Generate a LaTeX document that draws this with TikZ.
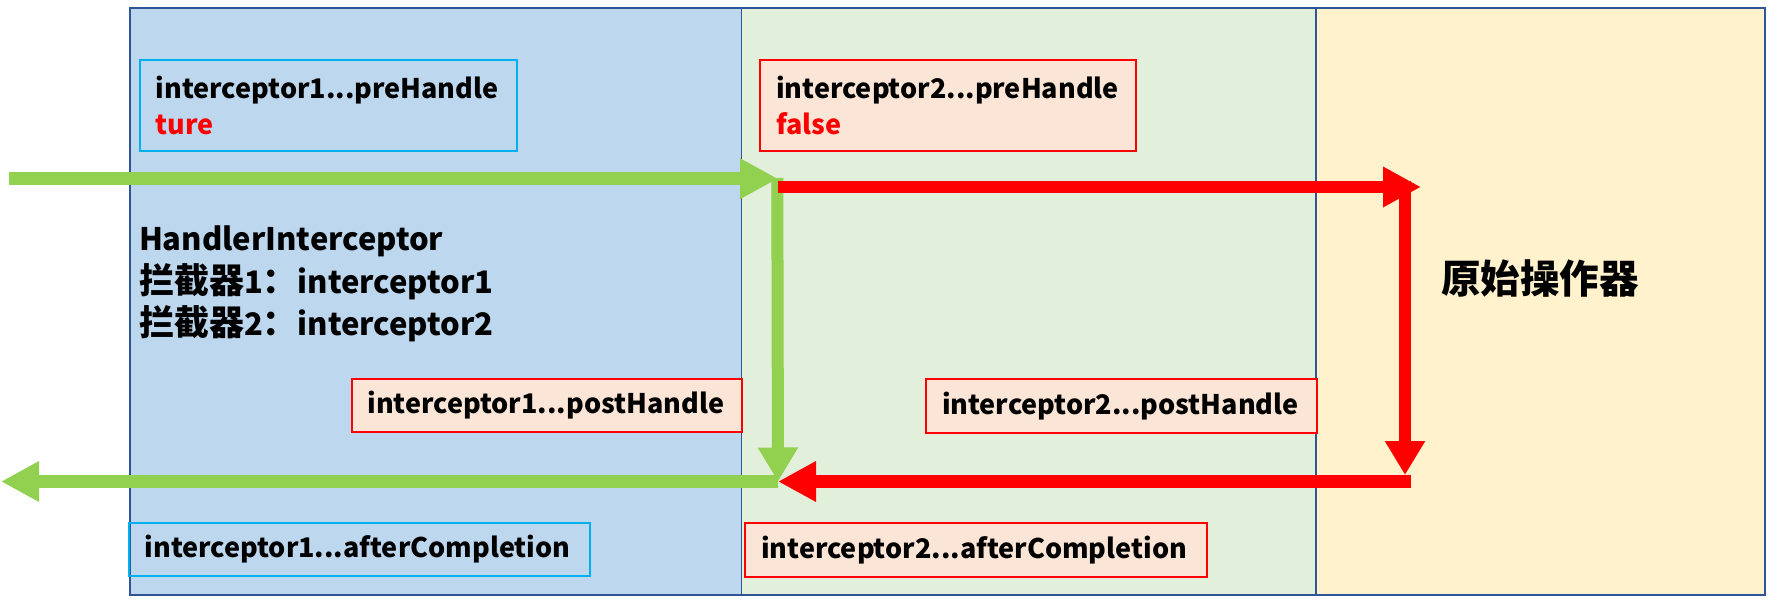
\documentclass[tikz,border=0pt]{standalone}
\usepackage{fontspec}
\setmainfont{Noto Sans CJK SC}
\usetikzlibrary{arrows.meta}
\definecolor{bgblue}{HTML}{BDD7EE}
\definecolor{bggreen}{HTML}{E2EFDA}
\definecolor{bgyellow}{HTML}{FFF2CC}
\definecolor{framecol}{HTML}{2F5597}
\definecolor{cyanline}{HTML}{00B0F0}
\definecolor{peach}{HTML}{FBE5D6}
\definecolor{arrgreen}{HTML}{92D050}
\definecolor{arrred}{HTML}{FF0000}
\newcommand{\bigcjk}[1]{{\fontsize{35}{38}\selectfont #1}}
\tikzset{
  basebox/.style={line width=2pt, inner xsep=16pt, inner ysep=0pt, anchor=north west, align=left,
    font=\fontsize{27}{36.7}\selectfont\bfseries},
  cyanbox/.style={basebox, draw=cyanline},
  redbox/.style={basebox, draw=arrred, fill=peach},
  harrow/.style={line width=12.7pt, -{Triangle[length=38pt, width=38pt]}},
  varrow/.style={line width=12pt, -{Triangle[length=34pt, width=38pt]}},
  maintext/.style={anchor=base west, inner sep=0pt, font=\fontsize{31}{38}\selectfont\bfseries},
}
\begin{document}
\begin{tikzpicture}[x=1pt,y=-1pt]
\path[use as bounding box] (0,0) rectangle (1782,614);
% panels
\fill[bgblue] (129.6,7.5) rectangle (741.3,594.5);
\fill[bggreen] (741.3,7.5) rectangle (1315.8,594.5);
\fill[bgyellow] (1315.8,7.5) rectangle (1764.5,594.5);
\draw[framecol, line width=1.5pt] (741.3,7.5) -- (741.3,594.5);
\draw[framecol, line width=1.5pt] (1315.8,7.5) -- (1315.8,594.5);
\draw[framecol, line width=2pt] (129.6,7.5) rectangle (1764.5,594.5);
% boxes
\node[cyanbox, minimum height=91pt, text width=345pt] (pre1) at (138.8,59) {interceptor1...preHandle\\\textcolor{arrred}{ture}};
\node[redbox, minimum height=91pt, text width=344pt] (pre2) at (759.2,59) {interceptor2...preHandle\\\textcolor{arrred}{false}};
\node[redbox, minimum height=53.3pt, text width=358.8pt] (post1) at (350.5,377.7) {interceptor1...postHandle};
\node[redbox, minimum height=54pt, text width=358.6pt] (post2) at (925,377.7) {interceptor2...postHandle};
\node[cyanbox, minimum height=53.6pt, text width=429.2pt] (after1) at (127.6,521.7) {interceptor1...afterCompletion};
\node[redbox, minimum height=54.3pt, text width=429.7pt] (after2) at (744.2,521.7) {interceptor2...afterCompletion};
% main texts
\node[maintext] (t1) at (138.8,250.7) {HandlerInterceptor};
\node[maintext] (t2) at (138.8,293) {\bigcjk{拦截器}1\bigcjk{：}interceptor1};
\node[maintext] (t3) at (138.8,335) {\bigcjk{拦截器}2\bigcjk{：}interceptor2};
\node[anchor=center, inner sep=0pt, font=\fontsize{39.5}{44}\selectfont\bfseries] (orig) at (1540,278.5) {原始操作器};
% connector points
\coordinate (gin) at (8.7,178.7);
\coordinate (jtop) at (778,178.7);
\coordinate (gvtop) at (777.3,178);
\coordinate (jbot) at (778,481.5);
\coordinate (rtop) at (778,187);
\coordinate (rtopend) at (1421,187);
\coordinate (rvtop) at (1405,181);
\coordinate (rvend) at (1405,475);
\coordinate (rbotstart) at (1411,481.5);
\coordinate (gout) at (1,481.5);
% arrows
\draw[harrow, arrgreen] (gin) -- (jtop);
\draw[varrow, arrgreen] (gvtop) -- (jbot);
\draw[harrow, arrgreen] (jbot) -- (gout);
\draw[harrow, arrred] (rtop) -- (rtopend);
\draw[varrow, arrred] (rvtop) -- (rvend);
\draw[harrow, arrred] (rbotstart) -- (jbot);
\end{tikzpicture}
\end{document}
